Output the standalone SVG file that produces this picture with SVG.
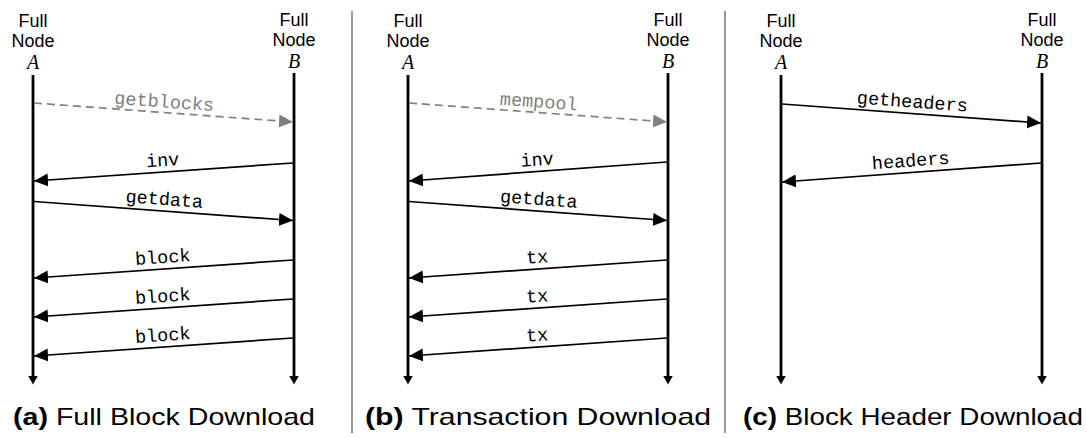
<svg xmlns="http://www.w3.org/2000/svg" width="1087" height="438" viewBox="0 0 1087 438">
<style>
.hd{font-family:"Liberation Sans",Arial,sans-serif;font-size:18px;fill:#000;text-anchor:middle}
.var{font-family:"Liberation Serif","Times New Roman",serif;font-style:italic;font-size:20px;fill:#000;text-anchor:middle}
.life{stroke:#000;stroke-width:2.8;fill:none;marker-end:url(#dn)}
.msg{stroke:#000;stroke-width:1.7;fill:none;marker-end:url(#ah)}
.dash{stroke:#808080;stroke-width:1.7;fill:none;stroke-dasharray:8 5;marker-end:url(#ahg)}
.lbl{font-family:"Liberation Mono","Courier New",monospace;font-size:18.5px;fill:#000;text-anchor:middle}
.lblg{font-family:"Liberation Mono","Courier New",monospace;font-size:18.5px;fill:#808080;text-anchor:middle}
.cap{font-family:"Liberation Sans",Arial,sans-serif;font-size:24px;fill:#000;text-anchor:middle}
.sep{stroke:#555;stroke-width:1.2}
</style>
<defs>
<marker id="ah" markerUnits="userSpaceOnUse" markerWidth="16" markerHeight="14" refX="14" refY="6.5" orient="auto"><path d="M0,0 L14,6.5 L0,13 z" fill="#000"/></marker>
<marker id="ahg" markerUnits="userSpaceOnUse" markerWidth="16" markerHeight="14" refX="14" refY="6.5" orient="auto"><path d="M0,0 L14,6.5 L0,13 z" fill="#808080"/></marker>
<marker id="dn" markerUnits="userSpaceOnUse" markerWidth="12" markerHeight="12" refX="0.5" refY="5" orient="auto"><path d="M0,0 L9,5 L0,10 z" fill="#000"/></marker>
</defs>

<g id="separators">
<line class="sep" x1="352" y1="11" x2="352" y2="433"/>
<line class="sep" x1="725" y1="11" x2="725" y2="433"/>
</g>

<!-- Panel a -->
<g id="a-nodeA">
<text class="hd" x="33" y="27">Full</text>
<text class="hd" x="33" y="47">Node</text>
<text class="var" x="33" y="69">A</text>
<line class="life" x1="33" y1="75" x2="33" y2="376"/>
</g>
<g id="a-nodeB">
<text class="hd" x="294" y="26">Full</text>
<text class="hd" x="294" y="46">Node</text>
<text class="var" x="294" y="68">B</text>
<line class="life" x1="294" y1="73" x2="294" y2="376"/>
</g>
<g id="a-connectors">
<line class="dash" x1="34" y1="103" x2="293" y2="122"/>
<text class="lblg" transform="translate(163.5,112.5) rotate(4.2)" y="-5">getblocks</text>
<line class="msg" x1="293" y1="163" x2="34" y2="181"/>
<text class="lbl" transform="translate(163.5,172) rotate(-3.95)" y="-6">inv</text>
<line class="msg" x1="34" y1="201.5" x2="293" y2="220.5"/>
<text class="lbl" transform="translate(163.5,211) rotate(4.2)" y="-6">getdata</text>
<line class="msg" x1="293" y1="260" x2="34" y2="278"/>
<text class="lbl" transform="translate(163.5,269) rotate(-3.95)" y="-6">block</text>
<line class="msg" x1="293" y1="299" x2="34" y2="317"/>
<text class="lbl" transform="translate(163.5,308) rotate(-3.95)" y="-6">block</text>
<line class="msg" x1="293" y1="338" x2="34" y2="356"/>
<text class="lbl" transform="translate(163.5,347) rotate(-3.95)" y="-6">block</text>
</g>
<g id="a-caption"><text class="cap" x="164" y="425" textLength="302" lengthAdjust="spacingAndGlyphs"><tspan font-weight="bold">(a)</tspan> Full Block Download</text></g>

<!-- Panel b -->
<g id="b-nodeA">
<text class="hd" x="408" y="27">Full</text>
<text class="hd" x="408" y="47">Node</text>
<text class="var" x="408" y="69">A</text>
<line class="life" x1="408" y1="75" x2="408" y2="376"/>
</g>
<g id="b-nodeB">
<text class="hd" x="668" y="26">Full</text>
<text class="hd" x="668" y="46">Node</text>
<text class="var" x="668" y="68">B</text>
<line class="life" x1="668" y1="73" x2="668" y2="376"/>
</g>
<g id="b-connectors">
<line class="dash" x1="409" y1="103" x2="667" y2="122"/>
<text class="lblg" transform="translate(538,112.5) rotate(4.2)" y="-5">mempool</text>
<line class="msg" x1="667" y1="162" x2="409" y2="181"/>
<text class="lbl" transform="translate(538,171.5) rotate(-4.2)" y="-6">inv</text>
<line class="msg" x1="409" y1="201.5" x2="667" y2="220.5"/>
<text class="lbl" transform="translate(538,211) rotate(4.2)" y="-6">getdata</text>
<line class="msg" x1="667" y1="260" x2="409" y2="278"/>
<text class="lbl" transform="translate(538,269) rotate(-3.95)" y="-6">tx</text>
<line class="msg" x1="667" y1="299" x2="409" y2="317"/>
<text class="lbl" transform="translate(538,308) rotate(-3.95)" y="-6">tx</text>
<line class="msg" x1="667" y1="338" x2="409" y2="356"/>
<text class="lbl" transform="translate(538,347) rotate(-3.95)" y="-6">tx</text>
</g>
<g id="b-caption"><text class="cap" x="538" y="425" textLength="346" lengthAdjust="spacingAndGlyphs"><tspan font-weight="bold">(b)</tspan> Transaction Download</text></g>

<!-- Panel c -->
<g id="c-nodeA">
<text class="hd" x="781" y="27">Full</text>
<text class="hd" x="781" y="47">Node</text>
<text class="var" x="781" y="69">A</text>
<line class="life" x1="781" y1="75" x2="781" y2="376"/>
</g>
<g id="c-nodeB">
<text class="hd" x="1042" y="26">Full</text>
<text class="hd" x="1042" y="46">Node</text>
<text class="var" x="1042" y="68">B</text>
<line class="life" x1="1042" y1="73" x2="1042" y2="376"/>
</g>
<g id="c-connectors">
<line class="msg" x1="782" y1="104" x2="1041" y2="123"/>
<text class="lbl" transform="translate(911.5,113.5) rotate(4.2)" y="-6">getheaders</text>
<line class="msg" x1="1041" y1="163" x2="782" y2="182"/>
<text class="lbl" transform="translate(911.5,172.5) rotate(-4.2)" y="-6">headers</text>
</g>
<g id="c-caption"><text class="cap" x="913" y="425" textLength="340" lengthAdjust="spacingAndGlyphs"><tspan font-weight="bold">(c)</tspan> Block Header Download</text></g>
</svg>
